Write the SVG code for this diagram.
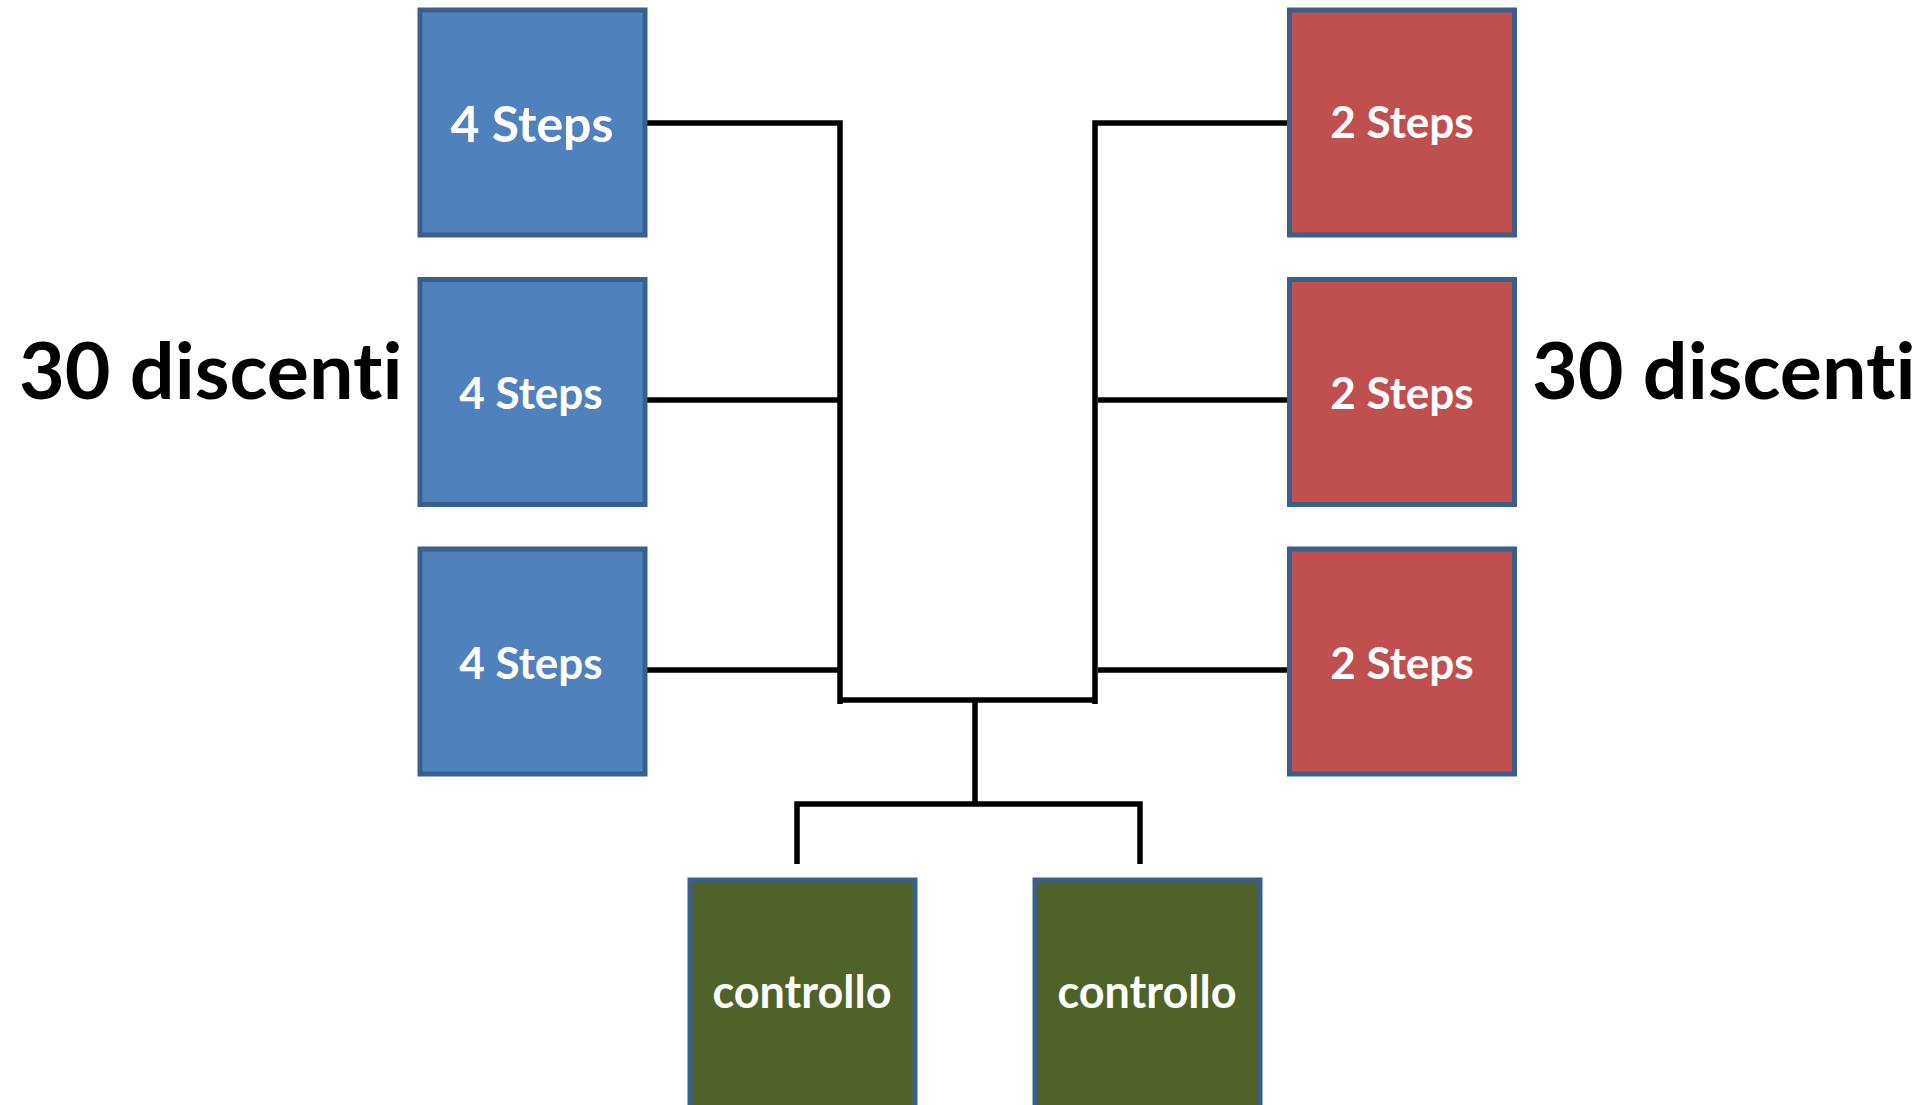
<svg xmlns="http://www.w3.org/2000/svg" width="1920" height="1105" viewBox="0 0 1920 1105">
  <style>
    .box { stroke: #3A5F8B; stroke-width: 5; }
    .blue { fill: #4F81BD; }
    .red { fill: #C0504D; }
    .green { fill: #4F6228; }
    .lbl { font-family: Lato, "Open Sans", "Liberation Sans", sans-serif; font-weight: bold; fill: #FFFFFF; text-anchor: middle; font-variant-ligatures: none; }
    .side { font-family: Lato, "Open Sans", "Liberation Sans", sans-serif; font-weight: bold; fill: #000000; font-size: 79px; font-variant-ligatures: none; }
    .wire { fill: none; stroke: #000000; stroke-width: 5.5; }
  </style>
  <rect width="1920" height="1105" fill="#FFFFFF"/>

  <!-- connectors -->
  <g id="connectors">
    <polyline class="wire" points="645,123 840,123 840,704"/>
    <line class="wire" x1="645" y1="400" x2="840" y2="400"/>
    <line class="wire" x1="645" y1="670" x2="840" y2="670"/>
    <polyline class="wire" points="1290,123 1095,123 1095,704"/>
    <line class="wire" x1="1098" y1="400" x2="1290" y2="400"/>
    <line class="wire" x1="1098" y1="670" x2="1290" y2="670"/>
    <line class="wire" x1="840" y1="700" x2="1095" y2="700"/>
    <line class="wire" x1="975" y1="700" x2="975" y2="804"/>
    <polyline class="wire" points="797,864 797,804 1140,804 1140,864"/>
  </g>

  <!-- four-step groups -->
  <g id="four-steps-1">
    <rect class="box blue" x="420" y="10" width="225" height="225"/>
    <text class="lbl" x="532" y="142" font-size="50">4 Steps</text>
  </g>
  <g id="four-steps-2">
    <rect class="box blue" x="420" y="279.5" width="225" height="225"/>
    <text class="lbl" x="531" y="409" font-size="44">4 Steps</text>
  </g>
  <g id="four-steps-3">
    <rect class="box blue" x="420" y="549" width="225" height="225"/>
    <text class="lbl" x="531" y="679" font-size="44">4 Steps</text>
  </g>

  <!-- two-step groups -->
  <g id="two-steps-1">
    <rect class="box red" x="1289.5" y="10" width="225" height="225"/>
    <text class="lbl" x="1402" y="138" font-size="44">2 Steps</text>
  </g>
  <g id="two-steps-2">
    <rect class="box red" x="1289.5" y="279.5" width="225" height="225"/>
    <text class="lbl" x="1402" y="409" font-size="44">2 Steps</text>
  </g>
  <g id="two-steps-3">
    <rect class="box red" x="1289.5" y="549" width="225" height="225"/>
    <text class="lbl" x="1402" y="679" font-size="44">2 Steps</text>
  </g>

  <!-- control groups -->
  <g id="control-1">
    <rect class="box green" x="690" y="880" width="225" height="235"/>
    <text class="lbl" x="802" y="1008" font-size="45">controllo</text>
  </g>
  <g id="control-2">
    <rect class="box green" x="1035" y="880" width="225" height="235"/>
    <text class="lbl" x="1147" y="1008" font-size="45">controllo</text>
  </g>

  <!-- side captions -->
  <g id="caption-left">
    <text class="side" x="19" y="399">30 discenti</text>
  </g>
  <g id="caption-right">
    <text class="side" x="1532" y="399">30 discenti</text>
  </g>
</svg>
